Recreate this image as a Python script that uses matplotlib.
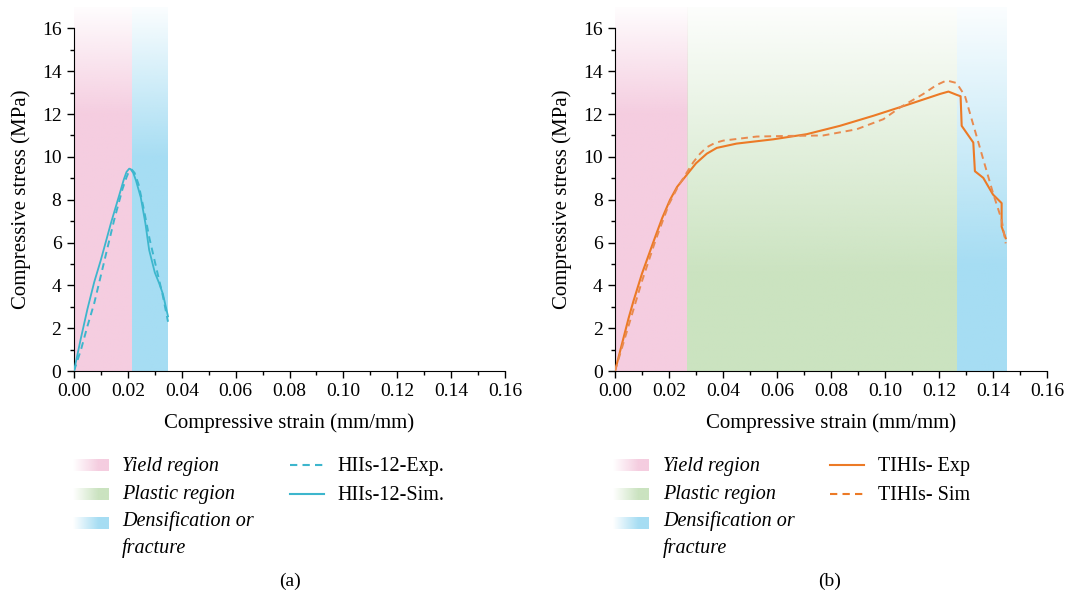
import numpy as np
import matplotlib.pyplot as plt
from matplotlib.colors import to_rgb

plt.rcParams['font.family'] = ['Liberation Serif', 'DejaVu Serif']
plt.rcParams['font.size'] = 14

# (a) HIIs-12
strain_a_sim = [0, 0.0025, 0.005, 0.0075, 0.010, 0.0137, 0.017, 0.0185, 0.0195, 0.0205,
                0.021, 0.022, 0.023, 0.0248, 0.0265, 0.0279, 0.030, 0.0316, 0.033, 0.0349]
stress_a_sim = [0, 1.5, 2.9, 4.15, 5.2, 6.9, 8.3, 8.95, 9.3, 9.45,
                9.43, 9.25, 8.9, 8.1, 6.9, 5.65, 4.6, 4.1, 3.6, 2.55]
strain_a_exp = [0, 0.0026, 0.005, 0.0075, 0.011, 0.0149, 0.018, 0.0195, 0.0205, 0.0215,
                0.0225, 0.024, 0.026, 0.028, 0.031, 0.033, 0.0349]
stress_a_exp = [0, 1.0, 2.1, 3.16, 5.0, 7.05, 8.5, 9.05, 9.35, 9.4,
                9.25, 8.7, 7.5, 6.2, 4.57, 3.5, 2.3]

# (b) TIHIs
strain_b_exp = [0, 0.005, 0.0068, 0.010, 0.013, 0.015, 0.0175, 0.0204, 0.023, 0.0265,
                0.030, 0.034, 0.0377, 0.045, 0.0586, 0.071, 0.0833, 0.0957, 0.108,
                0.1204, 0.1235, 0.1265, 0.128, 0.1284, 0.1327, 0.1333, 0.1364, 0.140,
                0.1432, 0.1432, 0.1447]
stress_b_exp = [0, 2.45, 3.25, 4.55, 5.6, 6.3, 7.15, 8.0, 8.6, 9.15,
                9.7, 10.15, 10.42, 10.62, 10.82, 11.06, 11.45, 11.92, 12.42,
                12.94, 13.05, 12.9, 12.83, 11.45, 10.67, 9.33, 9.02, 8.24,
                7.84, 6.74, 6.2]
strain_b_sim = [0, 0.005, 0.010, 0.015, 0.020, 0.0235, 0.0265, 0.029, 0.0315, 0.034,
                0.037, 0.0401, 0.0525, 0.0648, 0.0771, 0.0895, 0.0994, 0.1056, 0.1142,
                0.119, 0.1228, 0.1265, 0.1296, 0.1327, 0.1364, 0.140, 0.1432, 0.1447]
stress_b_sim = [0, 2.1, 4.2, 6.1, 7.8, 8.65, 9.25, 9.75, 10.15, 10.45,
                10.65, 10.76, 10.95, 10.98, 11.0, 11.29, 11.76, 12.31, 12.94,
                13.35, 13.57, 13.45, 12.85, 11.5, 9.88, 8.31, 7.06, 5.96]

# region limits (strain)
regions_a = [(0, 0.0215, 'yield'), (0.0215, 0.0348, 'dens')]
regions_b = [(0, 0.0267, 'yield'), (0.0267, 0.1267, 'plastic'), (0.1267, 0.1452, 'dens')]

region_colors = {'yield': '#f5cde0', 'plastic': '#cbe3c0', 'dens': '#a6ddf3'}
region_labels = ['Yield region', 'Plastic region', 'Densification or\nfracture']

cyan = '#3db6cd'
orange = '#ec7a26'
orange_d = '#e98a4e'
dash = (0, (3.5, 2.5))

YTOP = 17.0


def band(ax, x0, x1, color, fade_to):
    # vertical gradient: white at top, full colour below fade_to
    y = np.linspace(YTOP, 0, 200)
    a = np.clip((YTOP - y) / (YTOP - fade_to), 0, 1)
    a = 0.05 + 0.95 * a
    rgba = np.zeros((200, 1, 4))
    rgba[..., :3] = to_rgb(color)
    rgba[..., 3] = a[:, None]
    ax.imshow(rgba, extent=(x0, x1, 0, YTOP), aspect='auto', zorder=0,
              interpolation='bilinear')


def style_axes(ax):
    ax.set_xlim(0, 0.16)
    ax.set_ylim(0, YTOP)
    ax.spines['top'].set_visible(False)
    ax.spines['right'].set_visible(False)
    ax.spines['left'].set_bounds(0, 16)
    ax.set_xticks(np.arange(0, 0.161, 0.02))
    ax.set_xticks(np.arange(0, 0.161, 0.01), minor=True)
    ax.set_yticks(np.arange(0, 17, 2))
    ax.set_yticks(np.arange(0, 17, 1), minor=True)
    ax.set_xticklabels(['%.2f' % v for v in np.arange(0, 0.161, 0.02)])
    ax.tick_params(which='major', length=5, width=1, labelsize=14, pad=4)
    ax.tick_params(which='minor', length=3, width=1)
    ax.set_xlabel('Compressive strain (mm/mm)', fontsize=15, labelpad=9)
    ax.set_ylabel('Compressive stress (MPa)', fontsize=15)
    ax.yaxis.set_label_coords(-0.1, 8 / YTOP)


fig = plt.figure(figsize=(10.7, 6.01), dpi=100)
W, H = 1070, 601

ax1 = fig.add_axes([74 / W, 1 - 371 / H, 431 / W, (371 - 7) / H])
ax2 = fig.add_axes([615 / W, 1 - 371 / H, 432 / W, (371 - 7) / H])

fades_a = {'yield': 12.0, 'dens': 10.0}
fades_b = {'yield': 12.0, 'plastic': 4.5, 'dens': 5.0}
for x0, x1, k in regions_a:
    band(ax1, x0, x1, region_colors[k], fades_a[k])
for x0, x1, k in regions_b:
    band(ax2, x0, x1, region_colors[k], fades_b[k])

ax1.plot(strain_a_exp, stress_a_exp, color=cyan, lw=1.4, ls=dash, zorder=3)
ax1.plot(strain_a_sim, stress_a_sim, color=cyan, lw=1.3, zorder=3)
ax2.plot(strain_b_exp, stress_b_exp, color=orange, lw=1.5, zorder=3)
ax2.plot(strain_b_sim, stress_b_sim, color=orange_d, lw=1.4, ls=dash, zorder=3)

style_axes(ax1)
style_axes(ax2)


def legend_block(px, tx, lx, ltx, line_labels, line_styles, color):
    rows = [465, 494, 523]
    for i, key in enumerate(['yield', 'plastic', 'dens']):
        lax = fig.add_axes([px / W, 1 - (rows[i] + 6) / H, 36 / W, 12 / H])
        g = np.zeros((1, 100, 4))
        g[..., :3] = to_rgb(region_colors[key])
        g[..., 3] = np.clip(np.linspace(0, 1.4, 100), 0, 1)
        lax.imshow(g, aspect='auto', interpolation='bilinear')
        lax.axis('off')
        if i == 2:
            fig.text(tx / W, 1 - (rows[i] - 12) / H, region_labels[i], style='italic',
                     fontsize=14.5, va='top', linespacing=1.45)
        else:
            fig.text(tx / W, 1 - (rows[i] + 1) / H, region_labels[i], style='italic',
                     fontsize=14.5, va='center')
    for j in range(2):
        y = 1 - rows[j] / H
        fig.add_artist(plt.Line2D([lx / W, (lx + 34) / W], [y, y], color=color,
                                  lw=1.5, ls=line_styles[j],
                                  transform=fig.transFigure))
        fig.text(ltx / W, 1 - (rows[j] + 1) / H, line_labels[j], fontsize=14.5,
                 va='center')


legend_block(73, 122, 290, 337, ['HIIs-12-Exp.', 'HIIs-12-Sim.'], [dash, '-'], cyan)
legend_block(613, 663, 830, 878, ['TIHIs- Exp', 'TIHIs- Sim'], ['-', dash], orange)

fig.text(290 / W, 1 - 581 / H, '(a)', ha='center', va='center', fontsize=14)
fig.text(830 / W, 1 - 581 / H, '(b)', ha='center', va='center', fontsize=14)

fig.savefig('out.png', dpi=100)
